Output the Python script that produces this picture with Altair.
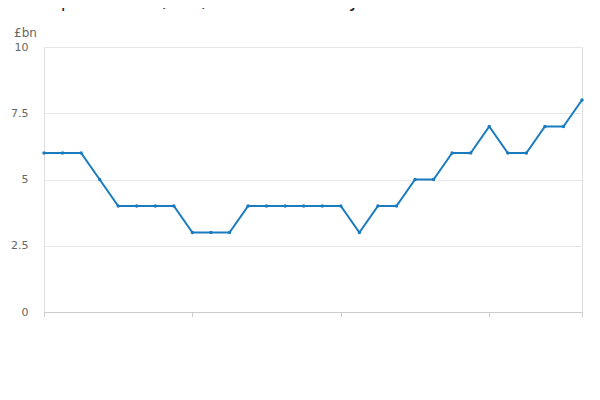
import altair as alt
import pandas as pd

years = list(range(1995, 2025))
values = [6, 6, 6, 5, 4, 4, 4, 4, 3, 3, 3, 4, 4, 4, 4, 4, 4, 3, 4, 4,
          5, 5, 6, 6, 7, 6, 6, 7, 7, 8]
series = "Net capital stock (£bn): S.1: Plant: Ind JC IT services: CVM"
x_ticks = [1995, 2003, 2011, 2019, 2024]
y_ticks = [0, 2.5, 5, 7.5, 10]

data = pd.DataFrame({"year": years, "value": values, "series": series})
one = pd.DataFrame({"a": [0]})
blue = "#1a7bbf"

line = alt.Chart(data).mark_line(point=alt.OverlayMarkDef(size=12, filled=True), strokeWidth=2).encode(
    x=alt.X("year:Q", title=None, scale=alt.Scale(domain=[1995, 2024], nice=False),
            axis=alt.Axis(values=x_ticks, format="d", labelAngle=-45, labelAlign="right",
                          labelColor="#666", labelFontSize=11, grid=False, tickColor="#ccc",
                          domainColor="#ccc", labelPadding=2, tickSize=5)),
    y=alt.Y("value:Q", title=None, scale=alt.Scale(domain=[0, 10]),
            axis=alt.Axis(values=y_ticks, labelExpr="toString(datum.value)",
                          labelColor="#666", labelFontSize=11, gridColor="#e6e6e6",
                          domain=False, ticks=False, labelPadding=16)),
    color=alt.Color("series:N", scale=alt.Scale(range=[blue]),
                    legend=alt.Legend(title=None, orient="bottom", labelFontSize=13,
                                      labelFontWeight="bold", labelColor="#333", symbolType="stroke",
                                      symbolStrokeWidth=2, labelLimit=600, offset=48)),
)

unit = alt.Chart(one).mark_text(text="£bn", align="left", fontSize=12, color="#666").encode(
    x=alt.value(-30), y=alt.value(-14))
source = alt.Chart(one).mark_text(text="Source:", align="right", fontSize=13, color="#666").encode(
    x=alt.value(540), y=alt.value(78 + 265 - 10))

chart = alt.layer(line, unit, source).properties(
    width=538, height=265,
    autosize=alt.AutoSizeParams(type="none"),
    title=alt.TitleParams(series, anchor="start", fontSize=18, fontWeight="normal",
                          color="#222", offset=16, dx=-8),
    padding={"left": 36, "top": 39, "right": 10, "bottom": 5},
).configure_view(stroke=None).configure(font="DejaVu Sans")

chart.save("out.html", embed_options={"renderer": "svg", "actions": False})
